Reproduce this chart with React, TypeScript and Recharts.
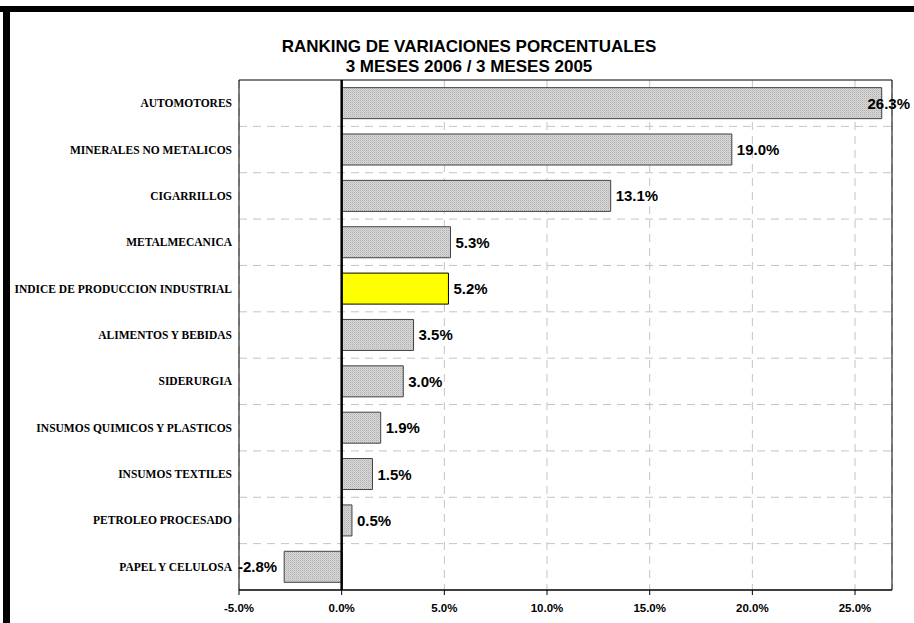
import React from 'react';
import {
  BarChart,
  Bar,
  XAxis,
  YAxis,
  CartesianGrid,
  ReferenceLine,
  ReferenceArea,
  LabelList,
  Cell
} from 'recharts';

// Ranking de variaciones porcentuales, 3 meses 2006 vs 3 meses 2005
const sectors = [
  'AUTOMOTORES',
  'MINERALES NO METALICOS',
  'CIGARRILLOS',
  'METALMECANICA',
  'INDICE DE PRODUCCION INDUSTRIAL',
  'ALIMENTOS Y BEBIDAS',
  'SIDERURGIA',
  'INSUMOS QUIMICOS Y PLASTICOS',
  'INSUMOS TEXTILES',
  'PETROLEO PROCESADO',
  'PAPEL Y CELULOSA'
];
const variations = [26.3, 19.0, 13.1, 5.3, 5.2, 3.5, 3.0, 1.9, 1.5, 0.5, -2.8];
const xTicks = [-5, 0, 5, 10, 15, 20, 25];
const highlight = 'INDICE DE PRODUCCION INDUSTRIAL';

const data = sectors.map((name, i) => ({ name, value: variations[i] }));

const W = 914;
const H = 623;
const X_MIN = -5;
const X_MAX = 26.8;
const LABEL_EDGE = 910;

const sans = '"Liberation Sans", Arial, sans-serif';
const serif = '"Liberation Serif", "Times New Roman", serif';

const pct = (v: number) => `${v.toFixed(1)}%`;

// category names on one line, right aligned against the plot
const CategoryTick = (props: any) => {
  const { x, y, payload } = props;
  return (
    <text
      x={x}
      y={y}
      textAnchor="end"
      dominantBaseline="central"
      fontFamily={serif}
      fontWeight="bold"
      fontSize={11.5}
      fill="#000"
    >
      {payload.value}
    </text>
  );
};

// value label: right of bar for positives, left of bar for negatives
const renderValue = (props: any) => {
  const v = Number(props.value);
  const x = Number(props.x);
  const w = Number(props.width);
  const cy = Number(props.y) + Number(props.height) / 2;
  const end = v >= 0 ? Math.max(x, x + w) : Math.min(x, x + w);
  let tx = end + 5;
  let anchor: 'start' | 'end' = 'start';
  if (v < 0) {
    tx = end - 7;
    anchor = 'end';
  } else if (end + 5 + 45 > LABEL_EDGE) {
    tx = LABEL_EDGE;
    anchor = 'end';
  }
  return (
    <text
      x={tx}
      y={cy}
      textAnchor={anchor}
      dominantBaseline="central"
      fontFamily={sans}
      fontWeight="bold"
      fontSize={15}
      fill="#000"
    >
      {pct(v)}
    </text>
  );
};

export default function App() {
  return (
    <div style={{ position: 'absolute', left: 0, top: 0, width: W, height: H, background: '#fff', overflow: 'hidden' }}>
      {/* outer frame (top and left edges only visible) */}
      <div style={{ position: 'absolute', left: 0, top: 6, width: W, height: 6, background: '#000' }} />
      <div style={{ position: 'absolute', left: 3, top: 6, width: 7, height: H - 6, background: '#000' }} />

      <div
        style={{
          position: 'absolute',
          left: 219,
          top: 37,
          width: 500,
          textAlign: 'center',
          fontFamily: sans,
          fontWeight: 'bold',
          fontSize: 17,
          lineHeight: '20px',
          color: '#000'
        }}
      >
        <div>RANKING DE VARIACIONES PORCENTUALES</div>
        <div>3 MESES 2006 / 3 MESES 2005</div>
      </div>

      <div style={{ position: 'absolute', left: 0, top: 0 }}>
        <BarChart
          width={W}
          height={H}
          data={data}
          layout="vertical"
          margin={{ top: 80, right: 22, bottom: 0, left: 10 }}
          barCategoryGap="16.5%"
        >
          <defs>
            <pattern id="hatch" width="2" height="2" patternUnits="userSpaceOnUse">
              <rect width="2" height="2" fill="#d8d8d8" />
              <rect x="0" y="0" width="1" height="1" fill="#b2b2b2" />
              <rect x="1" y="1" width="1" height="1" fill="#c6c6c6" />
            </pattern>
          </defs>
          <CartesianGrid
            stroke="#c4c4c4"
            strokeDasharray="8 6"
            horizontalCoordinatesGenerator={({ offset }: any) =>
              sectors.slice(1).map((_, i) => offset.top + (offset.height * (i + 1)) / sectors.length)
            }
          />
          <XAxis
            type="number"
            domain={[X_MIN, X_MAX]}
            ticks={xTicks}
            allowDataOverflow
            tickFormatter={pct}
            height={33}
            stroke="#000"
            tickSize={5}
            tickMargin={9}
            tick={{ fontFamily: sans, fontWeight: 'bold', fontSize: 11.5, fill: '#000' }}
          />
          <YAxis
            type="category"
            dataKey="name"
            width={229}
            axisLine={false}
            tickLine={false}
            tickSize={0}
            tickMargin={7}
            interval={0}
            tick={<CategoryTick />}
          />
          <ReferenceArea x1={X_MIN} x2={X_MAX} fill="none" stroke="#000" strokeWidth={1} />
          <Bar dataKey="value" isAnimationActive={false} stroke="#404040" strokeWidth={1}>
            {data.map((d) => (
              <Cell
                key={d.name}
                fill={d.name === highlight ? '#ffff00' : 'url(#hatch)'}
                stroke={d.name === highlight ? '#000' : '#404040'}
              />
            ))}
            <LabelList dataKey="value" content={renderValue} />
          </Bar>
          <ReferenceLine x={0} stroke="#000" strokeWidth={2.5} />
        </BarChart>
      </div>
    </div>
  );
}
